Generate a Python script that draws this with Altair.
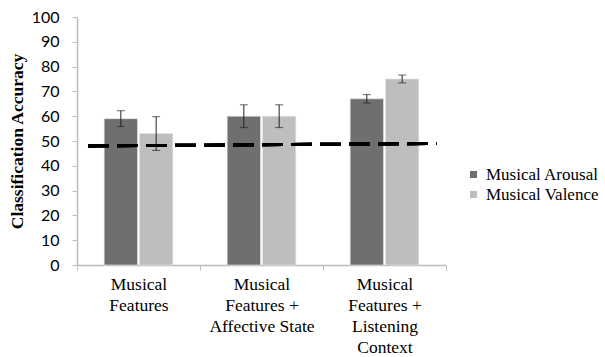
import altair as alt
import pandas as pd

# Feature sets compared (line breaks mark the wrapped axis labels)
categories = [
    "Musical\nFeatures",
    "Musical\nFeatures +\nAffective State",
    "Musical\nFeatures +\nListening\nContext",
]
series = ["Musical Arousal", "Musical Valence"]
arousal = [59, 60, 67]
arousal_err = [3.2, 4.6, 1.7]
valence = [53, 60, 75]
valence_err = [6.8, 4.6, 1.6]
chance_level = [48, 49]  # dashed baseline, left end and right end
colors = ["#6f6f6f", "#bebebe"]

rows = []
for cat, a, ae, v, ve in zip(categories, arousal, arousal_err, valence, valence_err):
    rows.append({"cat": cat, "series": series[0], "acc": a, "lo": a - ae, "hi": a + ae})
    rows.append({"cat": cat, "series": series[1], "acc": v, "lo": v - ve, "hi": v + ve})
df = pd.DataFrame(rows)

serif = "Liberation Serif"
sans = "Lato"

x = alt.X(
    "cat:N",
    sort=categories,
    scale=alt.Scale(paddingInner=0, paddingOuter=0),
    axis=alt.Axis(
        title=None,
        labelAngle=0,
        labelExpr="split(datum.label, '\\n')",
        labelFont=serif,
        labelFontSize=17.5,
        labelLineHeight=21,
        labelColor="black",
        labelPadding=5,
        tickBand="extent",
        tickSize=5,
        tickColor="#bdbdbd",
        domainColor="#bdbdbd",
        domainWidth=1.5,
    ),
)
xoff = alt.XOffset(
    "series:N", sort=series, scale=alt.Scale(paddingInner=0.057, paddingOuter=0.77)
)
y_scale = alt.Scale(domain=[0, 100], nice=False)
y_axis = alt.Axis(
    title="Classification Accuracy",
    titleFont=serif,
    titleFontSize=17.5,
    titleFontWeight="bold",
    titleColor="black",
    titlePadding=5,
    tickCount=10,
    labelOverlap=False,
    labelFont=sans,
    labelFontSize=16,
    labelColor="black",
    labelPadding=13,
    tickSize=5,
    tickColor="#bdbdbd",
    domainColor="#bdbdbd",
    domainWidth=1.5,
    grid=False,
)

bars = alt.Chart(df).mark_bar(stroke="#e6e6e6", strokeWidth=0.6).encode(
    x=x,
    xOffset=xoff,
    y=alt.Y("acc:Q", scale=y_scale, axis=y_axis),
    color=alt.Color(
        "series:N",
        sort=series,
        scale=alt.Scale(domain=series, range=colors),
        legend=alt.Legend(
            title=None,
            orient="none",
            legendX=388,
            legendY=149,
            symbolType="square",
            symbolSize=50,
            symbolStrokeWidth=0,
            labelFont=serif,
            labelFontSize=17,
            labelColor="black",
            labelOffset=4,
            rowPadding=2,
        ),
    ),
)

err = alt.Chart(df).mark_rule(color="#222222", strokeWidth=1).encode(
    x=x, xOffset=xoff, y=alt.Y("lo:Q", scale=y_scale, axis=y_axis), y2="hi:Q"
)
cap_lo = alt.Chart(df).mark_tick(color="#222222", thickness=1, size=8, orient="horizontal").encode(
    x=x, xOffset=xoff, y=alt.Y("lo:Q", scale=y_scale, axis=y_axis)
)
cap_hi = alt.Chart(df).mark_tick(color="#222222", thickness=1, size=8, orient="horizontal").encode(
    x=x, xOffset=xoff, y=alt.Y("hi:Q", scale=y_scale, axis=y_axis)
)

chance = alt.Chart(df).mark_rule(
    color="black", strokeWidth=3, strokeDash=[21, 8]
).encode(
    x=alt.value(11),
    x2=alt.value(360),
    y=alt.datum(chance_level[0]),
    y2=alt.datum(chance_level[1]),
)

chart = (
    alt.layer(bars, err, cap_lo, cap_hi, chance)
    .properties(
        width=369,
        height=248,
        autosize=alt.AutoSizeParams(type="none"),
        padding={"left": 77, "top": 17, "right": 159, "bottom": 92},
        background="white",
    )
    .configure_view(stroke=None)
)

chart.save("out.html", embed_options={"renderer": "svg", "actions": False})
